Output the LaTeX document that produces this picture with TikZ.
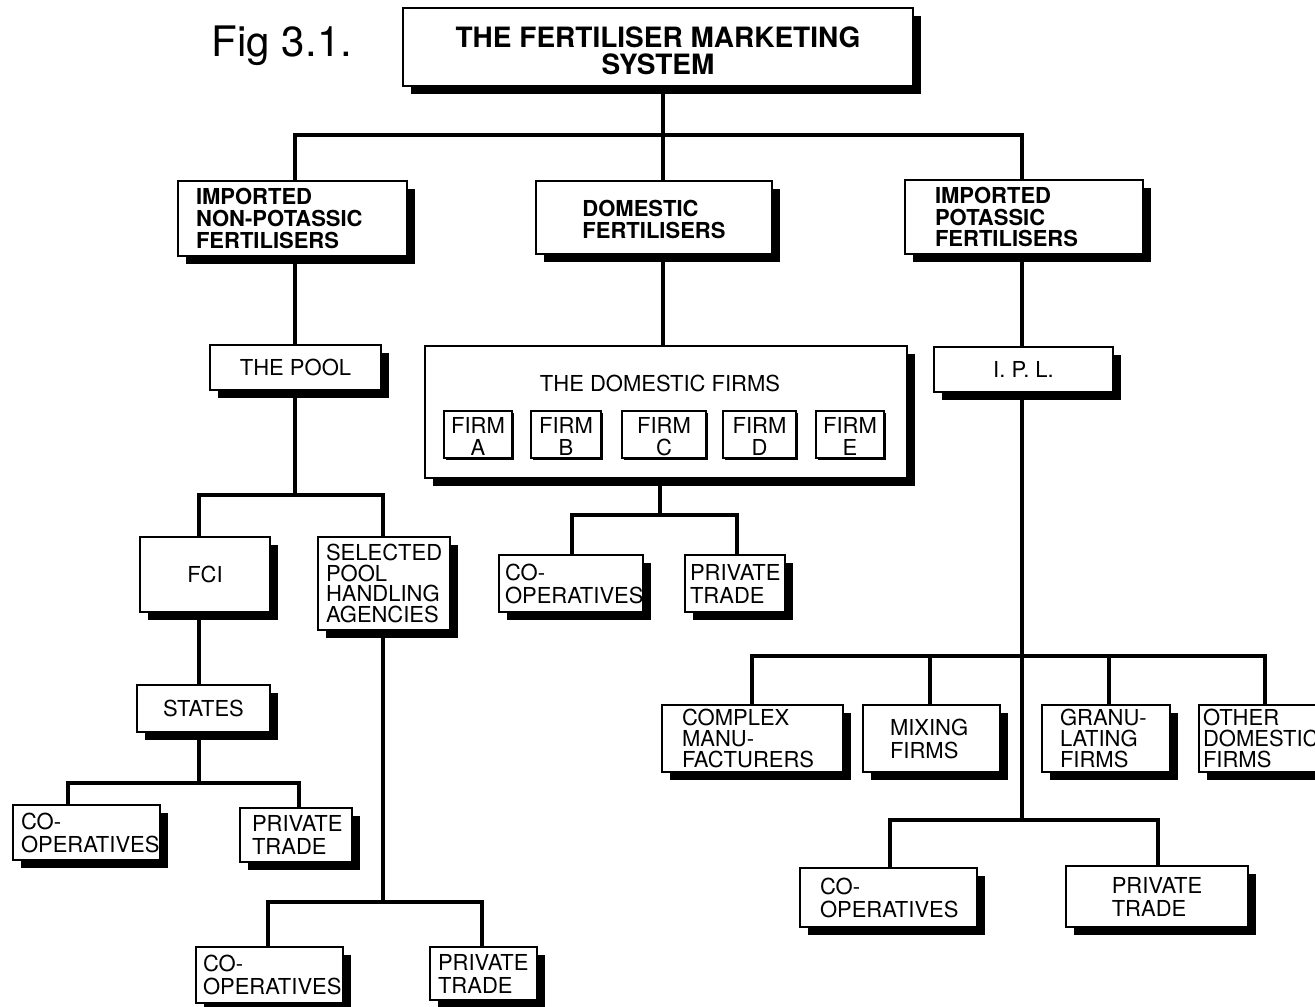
\documentclass[tikz,border=0pt]{standalone}
\usepackage{fontspec}
\setmainfont{TeX Gyre Heros}
\usetikzlibrary{shadows}
\tikzset{
  base/.style={draw, line width=1.2pt, fill=white, outer sep=0pt, inner ysep=0pt,
    font=\fontsize{11}{11}\selectfont},
  shbox/.style={base, drop shadow={shadow xshift=4pt, shadow yshift=-4pt, fill=black, opacity=1}},
  bld/.style={font=\bfseries\fontsize{11}{10.8}\selectfont},
  lowtxt/.style={font=\fontsize{11}{11.5}\selectfont},
  firmbox/.style={draw, line width=0.9pt, fill=white, outer sep=0pt, inner ysep=0pt,
    font=\fontsize{11}{11}\selectfont,
    drop shadow={shadow xshift=1pt, shadow yshift=-1pt, fill=black, opacity=1}},
  conn/.style={line width=1.6pt},
}
% left-aligned box: name x1 y1 x2 y2 pad style text
\newcommand\LB[8]{%
  \pgfmathsetmacro\bw{(#4-#2)*0.5}%
  \pgfmathsetmacro\bh{(#5-#3)*0.5}%
  \pgfmathsetmacro\tw{(#4-#2-2*#6)*0.5}%
  \pgfmathsetmacro\px{#6*0.5}%
  \node[shbox, #7, minimum width=\bw pt, minimum height=\bh pt, inner xsep=\px pt,
    text width=\tw pt, align=left] (#1) at ({(#2+#4)/2},{(#3+#5)/2}) {#8};}
% centred box: name x1 y1 x2 y2 style text
\newcommand\CB[7]{%
  \pgfmathsetmacro\bw{(#4-#2)*0.5}%
  \pgfmathsetmacro\bh{(#5-#3)*0.5}%
  \node[shbox, align=center, inner xsep=0pt, #6, minimum width=\bw pt, minimum height=\bh pt]
    (#1) at ({(#2+#4)/2},{(#3+#5)/2}) {#7};}
\begin{document}
\begin{tikzpicture}[x=0.5pt, y=-0.5pt]
\path[use as bounding box, fill=white] (0,0) rectangle (1315,1006);

% title
\node[font=\fontsize{21}{21}\selectfont] (fig) at (282,46) {Fig 3.1.};
\CB{title}{403}{8}{913}{86}{font=\bfseries\fontsize{14}{13.5}\selectfont}{\rule{0pt}{14pt}THE FERTILISER MARKETING\\SYSTEM}

% level 1
\LB{nonpot}{178}{181}{407}{256}{18}{bld}{IMPORTED\\NON-POTASSIC\\FERTILISERS}
\CB{dom}{536}{181}{772}{254}{bld, align=left}{\rule{0pt}{10pt}DOMESTIC\\FERTILISERS}
\LB{potas}{905}{180}{1143}{254}{30}{bld}{IMPORTED\\POTASSIC\\FERTILISERS}

% level 2
\CB{pool}{210}{345}{381}{390}{}{THE POOL}
\CB{ipl}{934}{347}{1113}{392}{}{I. P. L.}
\CB{dfirms}{425}{346}{907}{478}{}{}
\node[font=\fontsize{11}{11}\selectfont] (dftitle) at (660,383) {THE DOMESTIC FIRMS};
\foreach \n/\a/\b/\l in {fa/444/512/A, fb/531/601/B, fc/622/706/C, fd/723/796/D, fe/816/884/E}{
  \pgfmathsetmacro\bw{(\b-\a)*0.5}
  \node[firmbox, align=center, minimum width=\bw pt, minimum height=23.5pt]
    (\n) at ({(\a+\b)/2},434.5) {\rule{0pt}{10pt}FIRM\\\l};
}

% pool branch
\CB{fci}{140}{537}{270}{612}{}{FCI}
\LB{spha}{318}{537}{450}{630}{8}{font=\fontsize{11}{10.4}\selectfont}{SELECTED\\POOL\\HANDLING\\AGENCIES}
\CB{states}{137}{685}{270}{732}{}{STATES}
\LB{coopL}{13}{805}{160}{860}{8}{lowtxt}{CO-\\OPERATIVES}
\LB{ptL}{240}{808}{352}{862}{12}{lowtxt}{PRIVATE\\TRADE}
\LB{coopB}{196}{947}{343}{1003}{7}{lowtxt}{CO-\\OPERATIVES}
\LB{ptB}{430}{947}{537}{1000}{8}{lowtxt}{PRIVATE\\TRADE}

% domestic branch
\LB{coopM}{499}{555}{643}{612}{6}{lowtxt}{CO-\\OPERATIVES}
\LB{ptM}{685}{555}{785}{612}{5}{lowtxt}{PRIVATE\\TRADE}

% IPL branch
\LB{complex}{662}{705}{843}{772}{20}{font=\fontsize{11}{10.4}\selectfont}{COMPLEX\\MANU-\\FACTURERS}
\LB{mixing}{863}{705}{1000}{772}{27}{lowtxt}{MIXING\\FIRMS}
\LB{granu}{1042}{705}{1170}{772}{18}{font=\fontsize{11}{10.4}\selectfont}{GRANU-\\LATING\\FIRMS}
\LB{other}{1199}{705}{1330}{772}{4}{font=\fontsize{11}{10.4}\selectfont}{OTHER\\DOMESTIC\\FIRMS}
\LB{coopR}{800}{868}{977}{927}{20}{lowtxt}{CO-\\OPERATIVES}
\CB{ptR}{1066}{866}{1248}{927}{lowtxt, align=left}{PRIVATE\\TRADE}

% junctions
\coordinate (j1) at (663,135);
\coordinate (j1L) at (295,135);
\coordinate (j1R) at (1022,135);
\coordinate (j2) at (295,495);
\coordinate (j2L) at (199,495);
\coordinate (j2R) at (383,495);
\coordinate (j3) at (199,783);
\coordinate (j3L) at (68,783);
\coordinate (j3R) at (299,783);
\coordinate (j4) at (383,902);
\coordinate (j4L) at (268,902);
\coordinate (j4R) at (482,902);
\coordinate (j5) at (660,515);
\coordinate (j5L) at (572,515);
\coordinate (j5R) at (737,515);
\coordinate (j6) at (1022,820);
\coordinate (j6L) at (890,820);
\coordinate (j6R) at (1158,820);
\coordinate (j7L) at (752,656);
\coordinate (j7a) at (930,656);
\coordinate (j7b) at (1109,656);
\coordinate (j7R) at (1265,656);

% connectors
\draw[conn] (title.south -| j1) -- (j1);
\draw[conn] (j1L |- nonpot.north) -- (j1L) -- (j1R) -- (j1R |- potas.north);
\draw[conn] (j1) -- (j1 |- dom.north);
\draw[conn] (j1L |- nonpot.south) -- (j1L |- pool.north);
\draw[conn] (j1 |- dom.south) -- (j1 |- dfirms.north);
\draw[conn] (j1R |- potas.south) -- (j1R |- ipl.north);

\draw[conn] (j1L |- pool.south) -- (j2);
\draw[conn] (j2L |- fci.north) -- (j2L) -- (j2R) -- (j2R |- spha.north);
\draw[conn] (j2L |- fci.south) -- (j2L |- states.north);
\draw[conn] (j3 |- states.south) -- (j3);
\draw[conn] (j3L |- coopL.north) -- (j3L) -- (j3R) -- (j3R |- ptL.north);
\draw[conn] (j4 |- spha.south) -- (j4);
\draw[conn] (j4L |- coopB.north) -- (j4L) -- (j4R) -- (j4R |- ptB.north);

\draw[conn] (j5 |- dfirms.south) -- (j5);
\draw[conn] (j5L |- coopM.north) -- (j5L) -- (j5R) -- (j5R |- ptM.north);

\draw[conn] (j6 |- ipl.south) -- (j6);
\draw[conn] (j7L |- complex.north) -- (j7L) -- (j7R) -- (j7R |- other.north);
\draw[conn] (j7a) -- (j7a |- mixing.north);
\draw[conn] (j7b) -- (j7b |- granu.north);
\draw[conn] (j6L |- coopR.north) -- (j6L) -- (j6R) -- (j6R |- ptR.north);
\end{tikzpicture}
\end{document}
